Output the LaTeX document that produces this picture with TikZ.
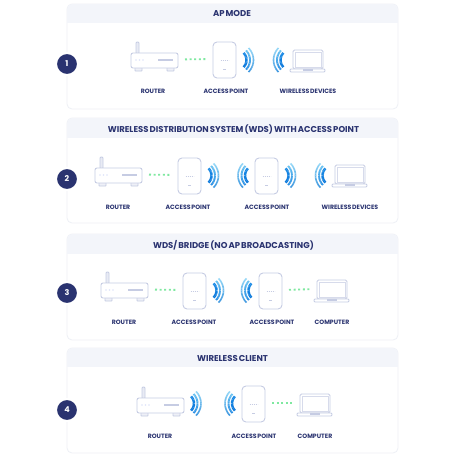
\documentclass[tikz,border=0pt]{standalone}
\usepackage{fontspec}
\setmainfont[WordSpace=0.6]{Poppins}
\definecolor{navy}{HTML}{2A3370}
\definecolor{devline}{HTML}{C6CCE3}
\definecolor{cardline}{HTML}{EEF0F6}
\definecolor{headfill}{HTML}{F3F5FA}
\definecolor{dotgreen}{HTML}{7FE8A0}
\definecolor{waveA}{HTML}{0A78DC}
\definecolor{waveB}{HTML}{2A8FE4}
\definecolor{waveC}{HTML}{3F98E0}
\definecolor{waveTA}{HTML}{1C8CE6}
\definecolor{waveTB}{HTML}{6CC4F2}
\definecolor{waveTC}{HTML}{98DAF8}
\newcommand{\wavearcs}[3]{% start angle, end angle (top to bottom), unused
  \foreach \rr/\wd/\cl/\ct in {10/2.5/waveA/waveTA,13.5/1.9/waveB/waveTB,17/1.6/waveC/waveTC}{
    \foreach \i in {0,...,11}{
      \pgfmathsetmacro{\aa}{#1+(#2-#1)*\i/12}
      \pgfmathsetmacro{\bb}{#1+(#2-#1)*(\i+1)/12}
      \pgfmathsetmacro{\pc}{100*(\i+0.5)/12}
      \draw[line width=\wd pt,color=\cl!\pc!\ct] (\aa:\rr) -- (\bb:\rr);
    }
  }
}
\tikzset{
  x=1pt,y=-1pt,
  cardbox/.style={draw=cardline,fill=white,line width=0.8pt,rounded corners=5pt},
  stepdisc/.style={circle,fill=navy,draw=white,line width=2pt,minimum size=22pt,inner sep=0pt,text=white,font=\fontsize{8}{8}\selectfont\bfseries},
  titletext/.style={text=navy,font=\fontsize{8.5}{10}\selectfont\bfseries,inner sep=0pt},
  labeltext/.style={text=navy,font=\fontsize{6.2}{7}\selectfont\bfseries,inner sep=0pt},
  dev/.style={draw=devline,line width=0.9pt,fill=white},
  devbody/.style={dev,rectangle,inner sep=0pt},
  dotlink/.style={draw=dotgreen,line width=1.8pt,dash pattern=on 2pt off 2.6pt,shorten <=7pt,shorten >=7.5pt},
  routerpic/.pic={
    \draw[dev,rounded corners=1pt,fill=devline!40] (5,-11) rectangle (8,1);
    \draw[dev,rounded corners=0.6pt,fill=devline!30] (4,14) rectangle (11,18);
    \draw[dev,rounded corners=0.6pt,fill=devline!30] (36,14) rectangle (43,18);
    \node[devbody,rounded corners=2pt,minimum width=47pt,minimum height=15pt] (-body) at (23.5,7.5) {};
    \foreach \px in {5,8.5,12}{\fill[devline!110!black!90] (\px,7) circle (0.8pt);}
    \draw[devline,line width=1.1pt] (27,7) -- (42,7);
    \coordinate (-w) at (0,6.5);\coordinate (-e) at (47,6.5);
  },
  appic/.pic={
    \node[devbody,rounded corners=4pt,minimum width=23pt,minimum height=36pt] (-body) at (11.5,18) {};
    \draw[devline,line width=0.8pt,dash pattern=on 1.2pt off 0.8pt] (7.5,18) -- (15.5,18);
    \draw[devline,line width=0.9pt] (10,27) -- (13,27);
    \coordinate (-w) at (0,17);\coordinate (-e) at (23,17);
  },
  laptoppic/.pic={
    \node[devbody,rounded corners=1.5pt,minimum width=30pt,minimum height=19pt] (-body) at (15,9.5) {};
    \draw[draw=devline!70,line width=0.6pt] (2,2) rectangle (28,17);
    \draw[dev,rounded corners=1pt] (-3,19) rectangle (32,22);
    \fill[devline] (10,19) rectangle (20,20.5);
    \coordinate (-w) at (0,9);\coordinate (-e) at (30,9);
  },
  waver/.pic={\wavearcs{-45}{45}{}},
  wavel/.pic={\wavearcs{225}{135}{}},
}
\begin{document}
\begin{tikzpicture}
\useasboundingbox (0,0) rectangle (458,458);
\fill[white] (0,0) rectangle (458,458);
% cards
\foreach \ya/\yb/\yc in {4/23/109,118/138/223,234/254/340,348/367/453}{
  \draw[cardbox] (67,\ya) rectangle (398,\yc);
  \begin{scope}
    \clip[rounded corners=5pt] (67,\ya) rectangle (398,\yc);
    \fill[headfill] (67,\ya) rectangle (398,\yb);
  \end{scope}
}
% step discs
\node[stepdisc] (s1) at (67,64) {1};
\node[stepdisc] (s2) at (67,179) {2};
\node[stepdisc] (s3) at (67,293) {3};
\node[stepdisc] (s4) at (67,410) {4};
% titles
\node[titletext] (t1) at (232,14) {AP MODE};
\node[titletext] (t2) at (233.5,130) {WIRELESS DISTRIBUTION SYSTEM (WDS) WITH ACCESS POINT};
\node[titletext] (t3) at (233.5,245) {WDS/ BRIDGE (NO AP BROADCASTING)};
\node[titletext] (t4) at (232.5,358) {WIRELESS CLIENT};
% row 1
\pic (r1) at (131,53) {routerpic};
\pic (a1) at (213,42) {appic};
\pic at (236.5,60) {waver};
\pic (l1) at (293,50) {laptoppic};
\pic at (290.5,60) {wavel};
\draw[dotlink] (r1-e) -- (a1-w);
\node[labeltext] (n11) at (153,91) {ROUTER};
\node[labeltext] (n12) at (226,91) {ACCESS POINT};
\node[labeltext] (n13) at (308,91) {WIRELESS DEVICES};
% row 2
\pic (r2) at (95,168) {routerpic};
\pic (a2) at (178,158) {appic};
\pic at (201.5,175.5) {waver};
\pic at (255,175.5) {wavel};
\pic (a3) at (255,158) {appic};
\pic at (278.5,175.5) {waver};
\pic (l2) at (335,165) {laptoppic};
\pic at (332.5,175.5) {wavel};
\draw[dotlink] (r2-e) -- (a2-w);
\node[labeltext] (n21) at (118,207) {ROUTER};
\node[labeltext] (n22) at (188,207) {ACCESS POINT};
\node[labeltext] (n23) at (267,207) {ACCESS POINT};
\node[labeltext] (n24) at (350,207) {WIRELESS DEVICES};
% row 3
\pic (r3) at (101,283) {routerpic};
\pic (a4) at (183,273) {appic};
\pic at (206.5,290.5) {waver};
\pic at (258.5,290.5) {wavel};
\pic (a5) at (259,273) {appic};
\pic (l3) at (317,280) {laptoppic};
\draw[dotlink] (r3-e) -- (a4-w);
\draw[dotlink] (a5-e) -- (l3-w);
\node[labeltext] (n31) at (124,322) {ROUTER};
\node[labeltext] (n32) at (194,322) {ACCESS POINT};
\node[labeltext] (n33) at (272,322) {ACCESS POINT};
\node[labeltext] (n34) at (332,322) {COMPUTER};
% row 4
\pic (r4) at (137,398) {routerpic};
\pic at (184,403.5) {waver};
\pic at (242,403.5) {wavel};
\pic (a6) at (242,386) {appic};
\pic (l4) at (300,394) {laptoppic};
\draw[dotlink] (a6-e) -- (l4-w);
\node[labeltext] (n41) at (160,436) {ROUTER};
\node[labeltext] (n42) at (254,436) {ACCESS POINT};
\node[labeltext] (n43) at (315,436) {COMPUTER};
\end{tikzpicture}
\end{document}
